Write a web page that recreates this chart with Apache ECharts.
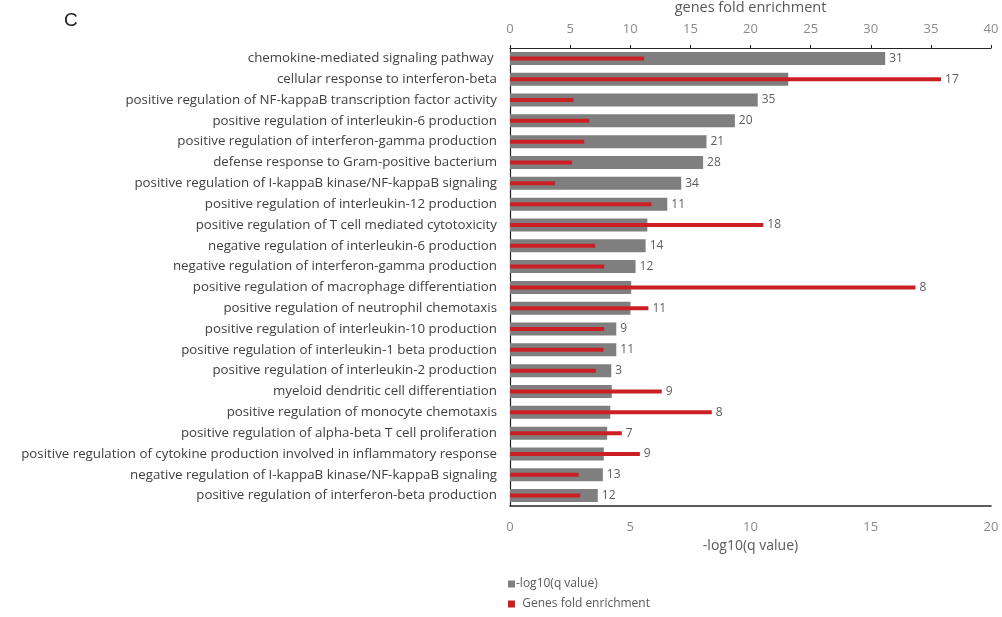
<!DOCTYPE html>
<html>
<head>
<meta charset="utf-8">
<script src="https://cdn.jsdelivr.net/npm/echarts@6/dist/echarts.min.js"></script>
<style>
html,body{margin:0;padding:0;background:#fff;}
#c{width:1002px;height:617px;}
</style>
</head>
<body>
<div id="c"></div>
<script>
var categories = [
  "chemokine-mediated signaling pathway ",
  "cellular response to interferon-beta",
  "positive regulation of NF-kappaB transcription factor activity",
  "positive regulation of interleukin-6 production",
  "positive regulation of interferon-gamma production",
  "defense response to Gram-positive bacterium",
  "positive regulation of I-kappaB kinase/NF-kappaB signaling",
  "positive regulation of interleukin-12 production",
  "positive regulation of T cell mediated cytotoxicity",
  "negative regulation of interleukin-6 production",
  "negative regulation of interferon-gamma production",
  "positive regulation of macrophage differentiation",
  "positive regulation of neutrophil chemotaxis",
  "positive regulation of interleukin-10 production",
  "positive regulation of interleukin-1 beta production",
  "positive regulation of interleukin-2 production",
  "myeloid dendritic cell differentiation",
  "positive regulation of monocyte chemotaxis",
  "positive regulation of alpha-beta T cell proliferation",
  "positive regulation of cytokine production involved in inflammatory response",
  "negative regulation of I-kappaB kinase/NF-kappaB signaling",
  "positive regulation of interferon-beta production"
];
var negLogQ = [15.6, 11.57, 10.3, 9.35, 8.17, 8.03, 7.12, 6.54, 5.71, 5.64, 5.22, 5.04, 5.01, 4.42, 4.42, 4.21, 4.23, 4.17, 4.04, 3.90, 3.86, 3.65];
var foldEnrichment = [11.15, 35.85, 5.28, 6.59, 6.17, 5.15, 3.74, 11.76, 21.07, 7.08, 7.83, 33.72, 11.51, 7.83, 7.78, 7.14, 12.62, 16.78, 9.30, 10.80, 5.70, 5.84];
var geneCounts = [31, 17, 35, 20, 21, 28, 34, 11, 18, 14, 12, 8, 11, 9, 11, 3, 9, 8, 7, 9, 13, 12];
var bottomTicks = [0, 5, 10, 15, 20];
var topTicks = [0, 5, 10, 15, 20, 25, 30, 35, 40];

var bottomMax = bottomTicks[bottomTicks.length - 1];
var topMax = topTicks[topTicks.length - 1];
var ratio = bottomMax / topMax;
var labelPos = negLogQ.map(function (v, i) { return Math.max(v, foldEnrichment[i] * ratio); });

var FONT = 'Open Sans';
var chart = echarts.init(document.getElementById('c'), null, {renderer: 'canvas'});
chart.setOption({
  animation: false,
  backgroundColor: '#ffffff',
  title: {
    text: 'C', left: 59, top: 6,
    textStyle: {fontFamily: 'Liberation Sans', fontSize: 19, fontWeight: 'normal', color: '#222'}
  },
  legend: {
    orient: 'vertical', left: 503, top: 573,
    itemWidth: 7, itemHeight: 7, itemGap: 8,
    icon: 'rect',
    data: ['-log10(q value)', 'Genes fold enrichment'],
    formatter: function (n) { return n === 'Genes fold enrichment' ? '  ' + n : n; },
    textStyle: {fontFamily: FONT, fontSize: 12, color: '#595959', padding: [0, 0, 0, -4]}
  },
  grid: {left: 510, right: 11, top: 48, bottom: 111, containLabel: false, outerBoundsMode: 'none'},
  xAxis: [
    {
      type: 'value', position: 'bottom', min: 0, max: bottomMax, interval: 5,
      name: '-log10(q value)', nameLocation: 'middle', nameGap: 25,
      nameTextStyle: {fontFamily: FONT, fontSize: 14, color: '#595959'},
      axisLine: {show: true, lineStyle: {color: '#262626', width: 1.5}},
      axisTick: {show: false},
      splitLine: {show: false},
      axisLabel: {fontFamily: FONT, fontSize: 13, color: '#8a8a8a', margin: 15}
    },
    {
      type: 'value', position: 'top', min: 0, max: topMax, interval: 5,
      name: 'genes fold enrichment', nameLocation: 'middle', nameGap: 33,
      nameTextStyle: {fontFamily: FONT, fontSize: 14.5, color: '#595959'},
      axisLine: {show: true, onZero: false, lineStyle: {color: '#262626', width: 1.2}},
      axisTick: {show: true, length: 3, lineStyle: {color: '#262626'}},
      splitLine: {show: false},
      axisLabel: {fontFamily: FONT, fontSize: 13, color: '#8a8a8a', margin: 12}
    }
  ],
  yAxis: [
    {
      type: 'category', inverse: true, data: categories,
      axisLine: {show: true, lineStyle: {color: '#222', width: 1.2}},
      axisTick: {show: false},
      axisLabel: {fontFamily: FONT, fontSize: 13.3, color: '#404040', margin: 13}
    },
    {
      type: 'category', inverse: true, data: categories, position: 'left',
      axisLine: {show: false}, axisTick: {show: false}, axisLabel: {show: false}
    }
  ],
  series: [
    {
      name: '-log10(q value)', type: 'bar', xAxisIndex: 0, yAxisIndex: 0, data: negLogQ,
      barWidth: 13,
      itemStyle: {color: '#7f7f7f'}, z: 2
    },
    {
      name: 'Genes fold enrichment', type: 'bar', xAxisIndex: 1, yAxisIndex: 1, data: foldEnrichment,
      barWidth: 4,
      itemStyle: {color: '#cc1f24'}, z: 3
    },
    {
      name: 'counts', type: 'scatter', xAxisIndex: 0, yAxisIndex: 0, data: labelPos,
      symbolSize: 0, silent: true, z: 4,
      label: {
        show: true, position: 'right', distance: 4,
        fontFamily: FONT, fontSize: 12, color: '#333',
        formatter: function (p) { return String(geneCounts[p.dataIndex]); }
      }
    }
  ]
});
</script>
</body>
</html>
